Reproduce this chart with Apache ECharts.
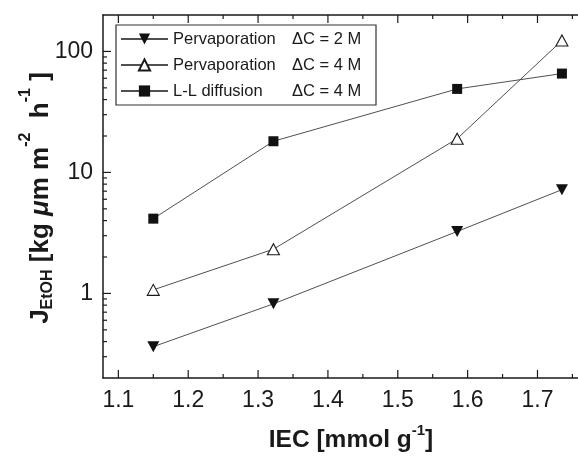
<!DOCTYPE html>
<html>
<head>
<meta charset="utf-8">
<script src="https://cdn.jsdelivr.net/npm/echarts@6/dist/echarts.min.js"></script>
<style>
  html, body { margin: 0; padding: 0; background: #fff; }
  #chart { width: 578px; height: 459px; }
</style>
</head>
<body>
<div id="chart"></div>
<script>
// Ion exchange capacity of the membranes (mmol g^-1)
const iec = [1.15, 1.322, 1.585, 1.735];

// Ethanol flux J_EtOH (kg µm m^-2 h^-1)
const pervap2M = [0.363, 0.82, 3.25, 7.2];
const pervap4M = [1.07, 2.32, 19.0, 123];
const llDiff4M = [4.15, 18.1, 49.0, 65.6];

// Legend text: method and concentration difference
const methodNames = ['Pervaporation', 'Pervaporation', 'L-L diffusion'];
const concLabels = ['\u0394C = 2 M', '\u0394C = 4 M', '\u0394C = 4 M'];

// Tick positions and labels
const xMajorTicks = [1.1, 1.2, 1.3, 1.4, 1.5, 1.6, 1.7];
const xMinorTicks = [1.15, 1.25, 1.35, 1.45, 1.55, 1.65, 1.75];
const yMajorTicks = [1, 10, 100];
const yMinorTicks = [0.3, 0.4, 0.5, 0.6, 0.7, 0.8, 0.9,
                     2, 3, 4, 5, 6, 7, 8, 9,
                     20, 30, 40, 50, 60, 70, 80, 90];

// Axis titles as [text, role] pieces: main, sub(script) or sup(erscript)
const xTitle = [['IEC [mmol g', 'main'], ['-1', 'sup'], [']', 'main']];
const yTitle = [['J', 'main'], ['EtOH', 'sub'], [' [kg ', 'main'], ['\u03BC', 'mu'],
                ['m m', 'main'], ['-2', 'sup'], ['  h', 'main'], ['-1', 'sup'], [' ]', 'main']];

const X_MIN = 1.078, X_MAX = 1.758;
const Y_MIN = 0.2, Y_MAX = 200;

const FONT_NAME = 'Liberation Sans';
const FONT = '"Liberation Sans", Arial, Helvetica, sans-serif';
const INK = '#1a1a1a';
const LINE = '#505050';

const seriesNames = methodNames.map((m, i) => m + '  ' + concLabels[i]);

function xAxisDef(pos) {
  return {
    type: 'value', position: pos, min: X_MIN, max: X_MAX,
    axisLine: { show: true, onZero: false, lineStyle: { color: INK, width: 1.5 } },
    axisTick: { show: false },
    axisLabel: pos === 'bottom' ? {
      show: true, customValues: xMajorTicks, margin: 11,
      formatter: v => Number(v).toFixed(1),
      fontFamily: FONT, fontSize: 23, color: INK
    } : { show: false },
    splitLine: { show: false }
  };
}

// Inward tick marks placed through the grid's own coordinate system
function tickSeries(values, len, dir) {
  return {
    type: 'custom',
    xAxisIndex: 0, yAxisIndex: 0,
    silent: true,
    clip: false,
    z: 10,
    data: values.map(v => dir === 'x' ? [v, Y_MIN] : [X_MIN, v]),
    renderItem: (params, api) => {
      const st = { stroke: INK, lineWidth: 1.2 };
      if (dir === 'x') {
        const v = api.value(0);
        const b = api.coord([v, Y_MIN]);
        const t = api.coord([v, Y_MAX]);
        return { type: 'group', children: [
          { type: 'line', shape: { x1: b[0], y1: b[1], x2: b[0], y2: b[1] - len }, style: st },
          { type: 'line', shape: { x1: t[0], y1: t[1], x2: t[0], y2: t[1] + len }, style: st }
        ] };
      }
      const v = api.value(1);
      const l = api.coord([X_MIN, v]);
      return { type: 'line', shape: { x1: l[0], y1: l[1], x2: l[0] + len, y2: l[1] }, style: st };
    }
  };
}

function lineSeries(idx, values, symbol, size, fill) {
  return {
    name: seriesNames[idx],
    type: 'line',
    xAxisIndex: 0, yAxisIndex: 0,
    data: iec.map((x, i) => [x, values[i]]),
    symbol: symbol,
    symbolSize: size,
    showAllSymbol: true,
    lineStyle: { color: LINE, width: 1 },
    itemStyle: { color: fill, borderColor: '#1a1a1a', borderWidth: fill === '#fff' ? 1.1 : 0 },
    emphasis: { disabled: true },
    z: 3 - idx
  };
}

const chart = echarts.init(document.getElementById('chart'), null, { renderer: 'canvas' });

chart.setOption({
  animation: false,
  backgroundColor: '#fff',
  grid: { left: 103, top: 15, width: 476, height: 363, containLabel: false },
  xAxis: [xAxisDef('bottom'), xAxisDef('top')],
  yAxis: [{
    type: 'log', logBase: 10, position: 'left', min: Y_MIN, max: Y_MAX,
    axisLine: { show: true, onZero: false, lineStyle: { color: INK, width: 1.5 } },
    axisTick: { show: false },
    axisLabel: {
      show: true, customValues: yMajorTicks, margin: 10,
      formatter: v => String(Math.round(v)),
      fontFamily: FONT, fontSize: 23, color: INK
    },
    splitLine: { show: false }
  }],
  legend: {
    orient: 'vertical',
    left: 116, top: 25,
    padding: [4, 8, 4, 4],
    itemGap: 6,
    itemWidth: 47,
    itemHeight: 14,
    borderColor: '#333',
    borderWidth: 1.2,
    borderRadius: 0,
    backgroundColor: '#fff',
    selectedMode: false,
    data: seriesNames,
    formatter: name => {
      const i = seriesNames.indexOf(name);
      return '{a|' + methodNames[i] + '}{b|' + concLabels[i] + '}';
    },
    textStyle: {
      fontFamily: FONT, fontSize: 16.5, color: INK, lineHeight: 20,
      rich: {
        a: { fontFamily: FONT, fontSize: 16.5, color: INK, width: 119, lineHeight: 20 },
        b: { fontFamily: FONT, fontSize: 16.5, color: INK, width: 76, lineHeight: 20 }
      }
    }
  },
  series: [
    lineSeries(0, pervap2M, 'path://M0,0L20,0L10,18Z', [12, 11], '#111'),
    lineSeries(1, pervap4M, 'triangle', [12, 11], '#fff'),
    lineSeries(2, llDiff4M, 'rect', 10, '#111'),
    tickSeries(xMajorTicks, 8, 'x'),
    tickSeries(xMinorTicks, 4, 'x'),
    tickSeries(yMajorTicks, 8, 'y'),
    tickSeries(yMinorTicks, 4, 'y')
  ]
});

// Axis titles: plain text pieces laid out along a line, sub/superscripts shifted
const measureCtx = document.createElement('canvas').getContext('2d');
function pieceStyle(role, mainSize, smallSize) {
  const small = role === 'sub' || role === 'sup';
  return {
    fontFamily: FONT, fontWeight: 'bold',
    fontStyle: role === 'mu' ? 'italic' : 'normal',
    fontSize: small ? smallSize : mainSize
  };
}
function pieceWidth(text, st) {
  measureCtx.font = st.fontStyle + ' ' + st.fontWeight + ' ' + st.fontSize + 'px "' + FONT_NAME + '"';
  return measureCtx.measureText(text).width;
}
function titleElements(pieces, opts) {
  const styles = pieces.map(p => pieceStyle(p[1], opts.mainSize, opts.smallSize));
  const widths = pieces.map((p, i) => pieceWidth(p[0], styles[i]));
  const total = widths.reduce((a, b) => a + b, 0);
  let run = -total / 2;
  return pieces.map((p, i) => {
    const shift = p[1] === 'sub' ? opts.subShift : (p[1] === 'sup' ? opts.supShift : 0);
    const along = run;
    run += widths[i];
    const el = {
      type: 'text', silent: true, z: 20,
      style: Object.assign({ text: p[0], fill: INK, align: 'left', verticalAlign: 'middle' }, styles[i])
    };
    if (opts.vertical) {
      // reads bottom to top; "down" in text space points right on screen
      el.x = opts.cx + shift;
      el.y = opts.cy - along;
      el.rotation = Math.PI / 2;
    } else {
      el.x = opts.cx + along;
      el.y = opts.cy + shift;
    }
    return el;
  });
}

try {
  chart.setOption({
    graphic: titleElements(xTitle, { cx: 351, cy: 440, mainSize: 24.5, smallSize: 15, subShift: 6, supShift: -9, vertical: false })
      .concat(titleElements(yTitle, { cx: 41, cy: 198, mainSize: 26, smallSize: 16, subShift: 7, supShift: -15, vertical: true }))
  });
} catch (e) { /* titles are optional decoration of the axes */ }
</script>
</body>
</html>
